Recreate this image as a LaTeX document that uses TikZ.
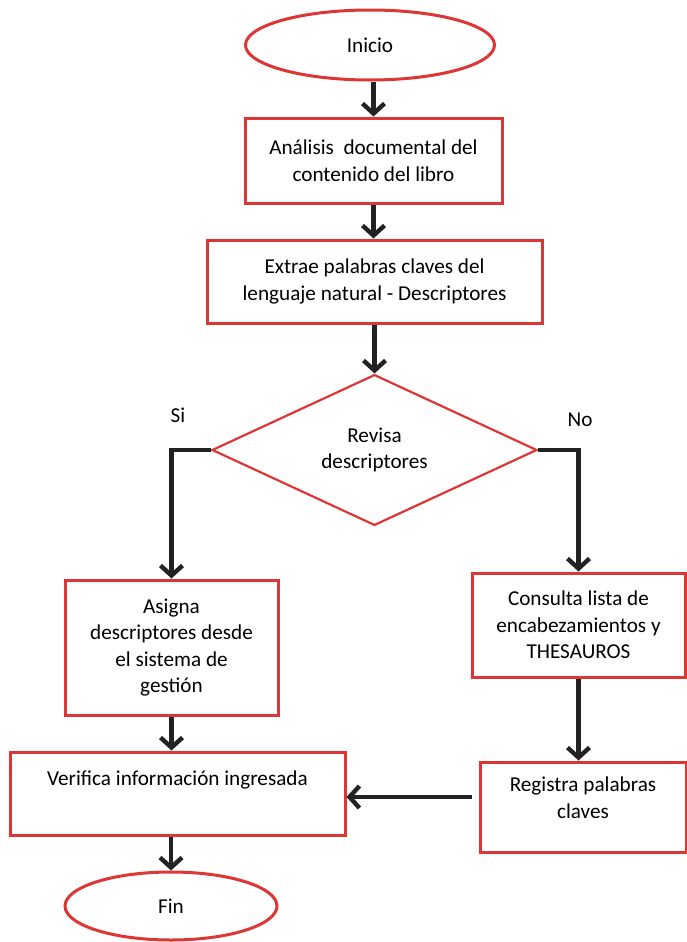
\documentclass[tikz,border=0pt]{standalone}
\usepackage{fontspec}
\setmainfont{Carlito}
\usepackage{tikz}
\usetikzlibrary{arrows.meta}
\usetikzlibrary{shapes.geometric}
\definecolor{bordecolor}{HTML}{DE3535}
\definecolor{flechacolor}{HTML}{222222}

\begin{document}
\begin{tikzpicture}[x=0.5pt,y=-0.5pt,
  font=\fontsize{10.6}{13.3}\selectfont,
  caja/.style={draw=bordecolor,line width=1.5pt,rectangle,align=center,inner sep=0pt},
  terminal/.style={draw=bordecolor,line width=1.5pt,ellipse,inner sep=0pt},
  decision/.style={draw=bordecolor,line width=1.1pt,diamond,align=center,inner sep=0pt},
  flecha/.style={color=flechacolor,line width=2.2pt,-{Straight Barb[length=5pt,width=11pt]}}]
\useasboundingbox (0,0) rectangle (686,942);
%%\draw[step=50,color=gray!50,dotted] (0,0) grid (686,942);
\node[terminal,minimum width=124.5pt,minimum height=35pt] (inicio) at (370,45) {Inicio};
\node[caja,minimum width=128.5pt,minimum height=42.5pt] (analisis) at (373.5,160.5)
   {Análisis~ documental del\\contenido del libro};
\node[caja,minimum width=167.5pt,minimum height=41.5pt] (extrae) at (374.5,281.5)
   {Extrae palabras claves del\\lenguaje natural - Descriptores};
\node[decision,minimum width=162.5pt,minimum height=75pt] (revisa) at (374.5,450)
   {Revisa\\descriptores};
\node (si) at (178,415) {Si};
\node (no) at (580,420) {No};
\node[caja,minimum width=106.5pt,minimum height=67.5pt] (asigna) at (171.5,647.5)
   {Asigna\\descriptores desde\\el sistema de\\gestión};
\node[caja,minimum width=106.5pt,minimum height=52pt] (consulta) at (578.5,625)
   {Consulta lista de\\encabezamientos y\\THESAUROS};
\node[caja,minimum width=167.5pt,minimum height=41.5pt] (verifica) at (177.5,793.5)
   {Verifica información ingresada\\[2pt]\mbox{}};
\node[caja,minimum width=103pt,minimum height=45pt] (registra) at (583,807)
   {Registra palabras\\claves\\[-4pt]\mbox{}};
\node[terminal,minimum width=106pt,minimum height=34pt] (fin) at (171,906) {Fin};

\draw[flecha] (inicio.south -| analisis.north) -- (analisis.north);
\draw[flecha] (analisis.south) -- (analisis.south |- extrae.north);
\draw[flecha] (extrae.south) -- (revisa.north);
\draw[flecha] (revisa.west) -| (asigna.north);
\draw[flecha] (revisa.east) -| (consulta.north);
\draw[flecha] (asigna.south) -- (asigna.south |- verifica.north);
\draw[flecha] (consulta.south) -- (consulta.south |- registra.north);
\draw[flecha] ([shift={(-3.5pt,5pt)}]registra.west) -- ([yshift=5pt]registra.west -| verifica.east);
\draw[flecha] (verifica.south -| fin.north) -- (fin.north);
\end{tikzpicture}
\end{document}
